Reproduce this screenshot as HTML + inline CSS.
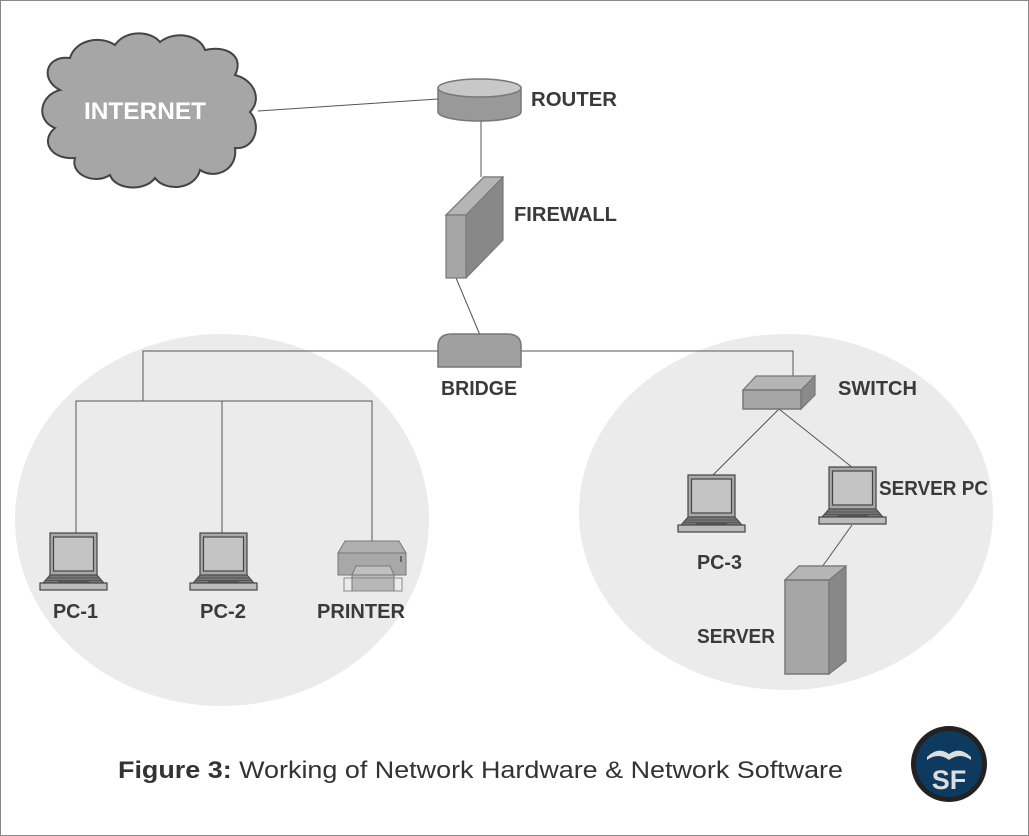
<!DOCTYPE html>
<html><head><meta charset="utf-8"><style>
html,body{margin:0;padding:0;background:#fff}
svg{display:block}
text{font-family:"Liberation Sans",sans-serif}
</style></head><body>
<svg width="1029" height="836" viewBox="0 0 1029 836" xmlns="http://www.w3.org/2000/svg">
<defs>
<g id="lap">
<rect x="10" y="0" width="47" height="42" fill="#a8a8a8" stroke="#444" stroke-width="1.2"/>
<rect x="13.5" y="4" width="40" height="34" fill="#c4c4c4" stroke="#444" stroke-width="1.2"/>
<path d="M10 42 H57 L64 50 H3 Z" fill="#777" stroke="#444" stroke-width="1"/>
<path d="M8 45 H59 M6 47.5 H61" stroke="#555" stroke-width="1"/>
<rect x="0" y="50" width="67" height="7" fill="#bbb" stroke="#444" stroke-width="1.2"/>
<rect x="18" y="47.5" width="31" height="2" fill="#555"/>
</g>
</defs>
<rect x="0.5" y="0.5" width="1028" height="835" fill="#fff" stroke="#888"/>
<ellipse cx="222" cy="520" rx="207" ry="186" fill="#ebebeb"/>
<ellipse cx="786" cy="512" rx="207" ry="178" fill="#ebebeb"/>
<g stroke="#555" stroke-width="1" fill="none">
<path d="M258 111 L438 99"/>
<path d="M481 120 V177"/>
<path d="M456 278 L480 335"/>
<path d="M143 401 V351 H438 M521 351 H793 V376"/>
<path d="M76 533 V401 H372 V541 M222 401 V533"/>
<path d="M779 409 L712 476 M779 409 L853 468 M852 525 L822 567"/>
</g>
<path d="M60 90 C40 80 45 55 70 58 C75 40 100 35 115 45 C125 30 150 30 160 42 C175 30 200 35 205 50 C225 45 245 55 235 75 C255 80 262 100 250 112 C262 125 255 150 235 148 C238 170 215 180 200 170 C195 190 165 192 155 178 C145 192 115 190 110 175 C95 185 70 175 75 158 C50 160 40 140 55 128 C35 120 40 95 60 90 Z" fill="#a6a6a6" stroke="#444" stroke-width="2"/>
<text x="145" y="119" text-anchor="middle" font-size="24" font-weight="bold" fill="#fff" textLength="122" lengthAdjust="spacingAndGlyphs">INTERNET</text>
<path d="M438 88 V112 A41.5 9 0 0 0 521 112 V88 Z" fill="#999" stroke="#777" stroke-width="1.5"/>
<ellipse cx="479.5" cy="88" rx="41.5" ry="9" fill="#c8c8c8" stroke="#777" stroke-width="1.5"/>
<path d="M446 215 L484 177 L503 177 L503 240 L466 278 Z" fill="#888" stroke="#777" stroke-width="1.2"/>
<path d="M446 215 L484 177 L503 177 L466 215 Z" fill="#b5b5b5" stroke="#777" stroke-width="1.2"/>
<rect x="446" y="215" width="20" height="63" fill="#a6a6a6" stroke="#777" stroke-width="1.2"/>
<path d="M438 367 V346 Q438 334 452 334 H507 Q521 334 521 346 V367 Z" fill="#a0a0a0" stroke="#777" stroke-width="1.5"/>
<path d="M743 390 L756 376 H815 L801 390 Z" fill="#b5b5b5" stroke="#777" stroke-width="1.2"/>
<path d="M801 390 L815 376 V395 L801 409 Z" fill="#8a8a8a" stroke="#777" stroke-width="1.2"/>
<rect x="743" y="390" width="58" height="19" fill="#a6a6a6" stroke="#777" stroke-width="1.5"/>
<use href="#lap" x="40" y="533"/>
<use href="#lap" x="190" y="533"/>
<use href="#lap" x="678" y="475"/>
<use href="#lap" x="819" y="467"/>
<path d="M338 553 L345 541 H399 L406 553 Z" fill="#b0b0b0" stroke="#777"/>
<rect x="338" y="553" width="68" height="22" fill="#a8a8a8" stroke="#777"/>
<path d="M352 575 L356 566 H390 L394 575 Z" fill="#c0c0c0" stroke="#777"/>
<rect x="352" y="575" width="42" height="16" fill="#b8b8b8" stroke="#777"/>
<rect x="344" y="578" width="58" height="13" fill="none" stroke="#888"/>
<rect x="400" y="556" width="2" height="6" fill="#666"/>
<path d="M785 580 L799 566 H846 V661 L829 674 Z" fill="#888" stroke="#777" stroke-width="1.2"/>
<path d="M785 580 L799 566 H846 L829 580 Z" fill="#b5b5b5" stroke="#777" stroke-width="1.2"/>
<rect x="785" y="580" width="44" height="94" fill="#a6a6a6" stroke="#777" stroke-width="1.5"/>
<g font-size="20" font-weight="bold" fill="#3a3a3a">
<text x="531" y="106" textLength="86" lengthAdjust="spacingAndGlyphs">ROUTER</text>
<text x="514" y="221" textLength="103" lengthAdjust="spacingAndGlyphs">FIREWALL</text>
<text x="441" y="395" textLength="76" lengthAdjust="spacingAndGlyphs">BRIDGE</text>
<text x="838" y="395" textLength="79" lengthAdjust="spacingAndGlyphs">SWITCH</text>
<text x="879" y="495" textLength="109" lengthAdjust="spacingAndGlyphs">SERVER PC</text>
<text x="697" y="569" textLength="45" lengthAdjust="spacingAndGlyphs">PC-3</text>
<text x="697" y="643" textLength="78" lengthAdjust="spacingAndGlyphs">SERVER</text>
<text x="53" y="618" textLength="45" lengthAdjust="spacingAndGlyphs">PC-1</text>
<text x="200" y="618" textLength="46" lengthAdjust="spacingAndGlyphs">PC-2</text>
<text x="317" y="618" textLength="88" lengthAdjust="spacingAndGlyphs">PRINTER</text>
</g>
<text x="118" y="778" font-size="24" fill="#333" textLength="725" lengthAdjust="spacingAndGlyphs"><tspan font-weight="bold">Figure 3:</tspan>  Working of Network Hardware &amp; Network Software</text>
<circle cx="949" cy="764" r="38" fill="#222"/>
<circle cx="949" cy="764" r="33" fill="#0d3a5e"/>
<path d="M927 757 Q938 746 949 754 Q960 746 971 757 L971 760 Q960 752 949 760 Q938 752 927 760 Z" fill="#ddd"/>
<text x="949" y="789" text-anchor="middle" font-size="27" font-weight="bold" fill="#ddd">SF</text>
</svg>
</body></html>
